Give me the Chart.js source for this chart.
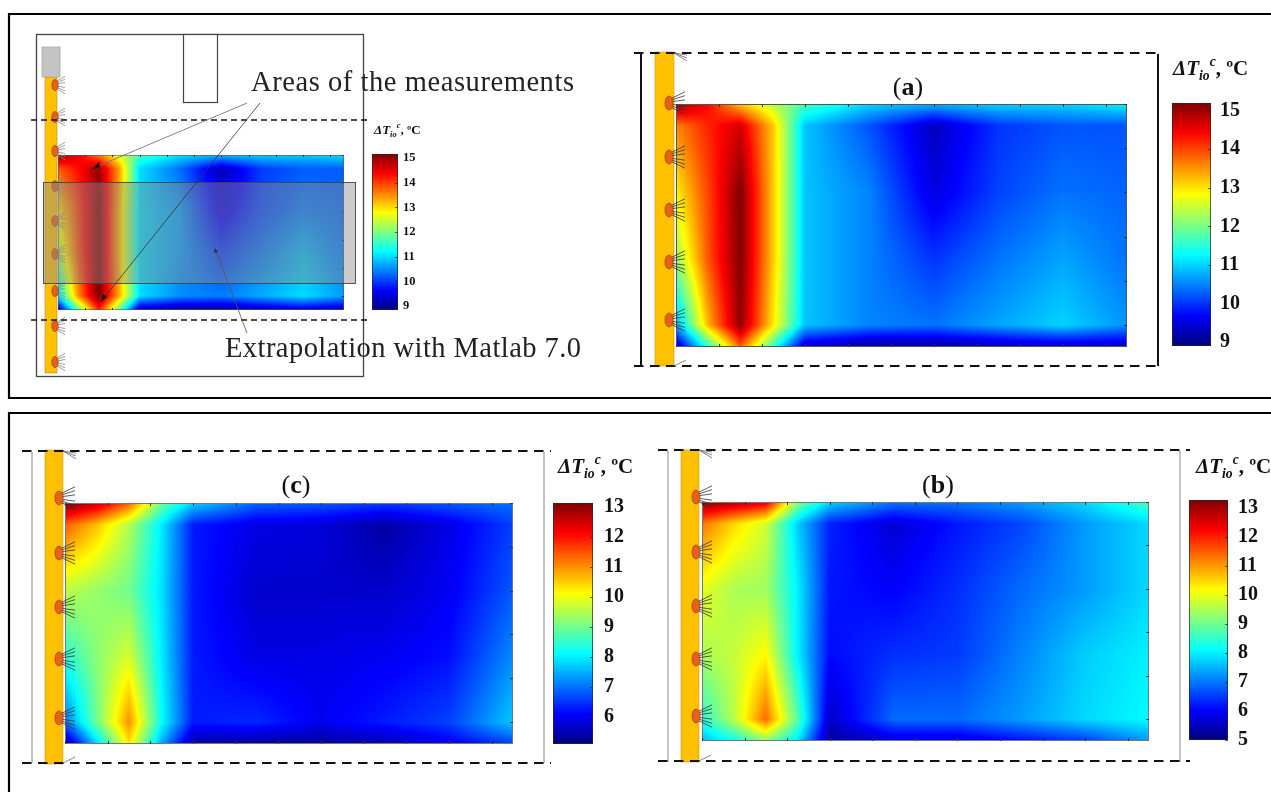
<!DOCTYPE html>
<html><head><meta charset="utf-8">
<script src="https://cdn.jsdelivr.net/npm/chart.js@4"></script>
<style>
html,body{margin:0;padding:0;background:#fff;width:1271px;height:792px;overflow:hidden}
body{filter:blur(.45px)}
canvas{position:absolute;display:block}
svg{position:absolute;left:0;top:0}
</style></head><body>
<svg id="under" width="1271" height="792" style="z-index:1"></svg>
<svg id="over" width="1271" height="792" style="z-index:5"></svg>
<script>
const xNodes=[0,0.75,1.5,2.25,3,4.5,6,7.5,9,10.5];
const yNodes=[0,0.5,2,3.5,5,5.5];
const xTicks=[0,1,2,3,4,5,6,7,8,9,10,10.5];
const yTicks=[0,1,2,3,4,5,5.5];
const schematicValues=[
 [15.1,14.5,13.6,12.6,11.6,11.0,10.8,10.9,10.9,11.0],
 [13.8,14.3,15.0,13.4,11.0,10.3, 9.2,10.0,10.2,10.2],
 [12.9,14.0,15.2,13.2,11.0,10.6, 9.5,10.1,10.4,10.3],
 [12.3,13.9,15.2,13.2,11.0,10.6,10.0,10.4,10.8,10.4],
 [11.0,13.5,15.2,13.3,11.0,10.5,10.4,10.7,11.0,10.6],
 [ 9.2,11.8,14.2,11.8, 9.2, 9.0, 9.0, 9.2, 9.4, 9.2]];
const panelAValues=[
 [15.1,14.4,13.2,12.4,11.7,11.0,10.8,11.0,11.0,11.2],
 [13.6,14.2,14.7,13.2,10.9,10.2, 9.3,10.0,10.2,10.2],
 [12.9,14.0,15.2,13.2,10.9,10.5, 9.5,10.1,10.4,10.3],
 [12.2,13.9,15.2,13.2,10.9,10.5,10.0,10.4,10.7,10.4],
 [10.7,13.3,15.1,13.0,10.9,10.5,10.4,10.7,11.0,10.6],
 [ 9.2,11.5,13.8,11.6, 9.3, 9.0, 9.0, 9.2, 9.3, 9.3]];
const panelCValues=[
 [13.2,12.6,11.4,9.0,7.8,6.9,6.8,6.6,6.8,7.0],
 [11.4,10.6, 9.5,8.0,6.3,5.9,5.8,5.4,5.9,6.6],
 [ 9.6, 9.3, 9.0,7.9,6.3,5.7,5.7,5.7,6.0,6.8],
 [ 8.4, 9.2, 9.8,8.0,6.3,5.9,5.9,6.0,6.2,7.2],
 [ 7.0, 9.0,11.0,8.2,6.3,6.4,6.0,6.3,6.6,7.7],
 [ 5.3, 7.8,10.3,7.5,5.4,5.3,5.3,5.5,6.0,6.6]];
const panelBValues=[
 [13.2,12.9,12.5,9.2,7.8,7.0,7.0,7.3,7.8,8.7],
 [11.3,10.5, 9.8,7.7,6.3,5.7,6.2,6.6,7.3,7.8],
 [10.0, 9.5, 9.4,8.0,6.2,6.0,6.4,6.9,7.3,7.8],
 [ 9.5, 9.7,10.2,8.0,6.1,6.4,6.5,7.1,7.7,8.0],
 [ 8.4, 9.6,11.4,8.8,5.6,6.9,6.9,7.3,7.8,8.1],
 [ 7.5, 8.2, 9.2,7.9,5.2,5.7,5.7,6.1,6.5,7.3]];
const barTicksA=[9,10,11,12,13,14,15];
const barTicksC=[6,7,8,9,10,11,12,13];
const barTicksB=[5,6,7,8,9,10,11,12,13];

function jet(t){
  const c=v=>Math.round(255*Math.max(0,Math.min(1,v)));
  return [c(1.5-Math.abs(4*t-3)),c(1.5-Math.abs(4*t-2)),c(1.5-Math.abs(4*t-1))];
}
const SERIF='"Liberation Serif","DejaVu Serif",serif';

function seg(nodes,v){
  let i=0;while(i<nodes.length-2&&v>nodes[i+1])i++;
  return [i,(v-nodes[i])/(nodes[i+1]-nodes[i])];
}
const fieldPlugin={id:'field',beforeDatasetsDraw(chart,args,o){
  const a=chart.chartArea,sx=chart.scales.x,sy=chart.scales.y,ctx=chart.ctx;
  const rows=chart.data.datasets[0].grid;
  const W=Math.round(a.right-a.left),H=Math.round(a.bottom-a.top);
  const img=ctx.createImageData(W,H);
  for(let py=0;py<H;py++){
    const [j,fy]=seg(yNodes,Math.max(0,Math.min(5.5,sy.getValueForPixel(a.top+py+.5))));
    for(let px=0;px<W;px++){
      const [i,fx]=seg(xNodes,Math.max(0,Math.min(10.5,sx.getValueForPixel(a.left+px+.5))));
      const v=(rows[j][i]*(1-fx)+rows[j][i+1]*fx)*(1-fy)+(rows[j+1][i]*(1-fx)+rows[j+1][i+1]*fx)*fy;
      const c=jet((v-o.vmin)/(o.vmax-o.vmin));
      const k=(py*W+px)*4;
      img.data[k]=c[0];img.data[k+1]=c[1];img.data[k+2]=c[2];img.data[k+3]=255;
    }
  }
  ctx.putImageData(img,a.left,a.top);
  ctx.save();
  ctx.strokeStyle=o.frame;ctx.lineWidth=1;
  ctx.strokeRect(a.left+.5,a.top+.5,a.right-a.left-1,a.bottom-a.top-1);
  ctx.strokeStyle='#333';ctx.beginPath();
  for(const t of xTicks){const p=Math.round(sx.getPixelForValue(t))+.5;
    ctx.moveTo(p,a.top);ctx.lineTo(p,a.top+o.tick);
    ctx.moveTo(p,a.bottom);ctx.lineTo(p,a.bottom-o.tick);}
  for(const t of yTicks){const p=Math.round(sy.getPixelForValue(t))+.5;
    ctx.moveTo(a.right,p);ctx.lineTo(a.right-o.tick,p);}
  ctx.stroke();ctx.restore();
}};
function heat(box,rows,vmin,vmax,frame,tick){
  const c=document.createElement('canvas');
  c.width=box.w;c.height=box.h;c.style.left=box.x+'px';c.style.top=box.y+'px';c.style.zIndex=2;
  document.body.appendChild(c);
  const pts=[];
  rows.forEach((r,j)=>r.forEach((v,i)=>pts.push({x:xNodes[i],y:yNodes[j],v})));
  new Chart(c,{type:'scatter',plugins:[fieldPlugin],
    data:{datasets:[{data:pts,grid:rows,pointRadius:0,showLine:false}]},
    options:{responsive:false,animation:false,layout:{padding:0,autoPadding:false},
      plugins:{legend:{display:false},tooltip:{enabled:false},field:{vmin,vmax,frame,tick}},
      scales:{x:{type:'linear',display:false,min:0,max:10.5},y:{type:'linear',display:false,min:0,max:5.5,reverse:true}}}});
}
function colorbar(box,ticks,vmin,vmax,fs,gap){
  const pad=30,lab=Math.ceil(fs+gap+fs*1.1);
  const c=document.createElement('canvas');
  c.width=box.w+lab;c.height=box.h+2*pad;c.style.left=box.x+'px';c.style.top=(box.y-pad)+'px';c.style.zIndex=2;
  document.body.appendChild(c);
  new Chart(c,{type:'bar',
    plugins:[{id:'barTicks',afterDraw(ch){const a=ch.chartArea,g=ch.ctx,s=ch.scales.y;g.save();
      g.strokeStyle='rgba(40,40,40,.7)';g.lineWidth=1;g.strokeRect(a.left+.5,a.top+.5,a.right-a.left-1,a.bottom-a.top-1);
      g.beginPath();for(const t of ticks){const p=Math.round(s.getPixelForValue(t))+.5;g.moveTo(a.right,p);g.lineTo(a.right-3,p);}
      g.stroke();g.restore();}}],
    data:{labels:['ΔT'],datasets:[{data:[[vmin,vmax]],barPercentage:1,categoryPercentage:1,
      backgroundColor(ctx){const ch=ctx.chart,a=ch.chartArea;if(!a)return '#00f';
        const g=ch.ctx.createLinearGradient(0,a.bottom,0,a.top);
        for(let i=0;i<=64;i++){const q=jet(i/64);g.addColorStop(i/64,`rgb(${q[0]},${q[1]},${q[2]})`);}
        return g;}}]},
    options:{responsive:false,animation:false,layout:{padding:{top:pad,bottom:pad,left:0,right:0},autoPadding:false},
      plugins:{legend:{display:false},tooltip:{enabled:false}},
      scales:{x:{display:false},
        y:{position:'right',min:vmin,max:vmax,border:{display:false},grid:{display:false,drawTicks:false},
          afterBuildTicks(s){s.ticks=ticks.map(v=>({value:v}));},
          afterFit(s){s.width=lab;},
          ticks:{autoSkip:false,color:'#111',padding:gap,font:{family:SERIF,size:fs,weight:'bold'},callback:v=>String(v)}}}}});
}
/* plots */
heat({x:58,y:155,w:286,h:155},schematicValues,8.84,15.16,'rgba(90,90,90,.6)',2);
colorbar({x:372,y:154,w:26,h:156},barTicksA,8.84,15.16,12.5,5);
heat({x:676,y:104,w:451,h:243},panelAValues,8.9,15.2,'#555',3);
colorbar({x:1172,y:103,w:39,h:243},barTicksA,8.9,15.2,20,9);
heat({x:65,y:503,w:448,h:241},panelCValues,5.1,13.13,'#777',3);
colorbar({x:553,y:503,w:40,h:241},barTicksC,5.1,13.13,20,11);
heat({x:702,y:502,w:447,h:239},panelBValues,5,13.28,'#777',3);
colorbar({x:1189,y:500,w:39,h:240},barTicksB,5,13.28,20,10);

/* annotations */
const NS='http://www.w3.org/2000/svg';
function el(svg,n,a,txt){const e=document.createElementNS(NS,n);for(const k in a)e.setAttribute(k,a[k]);if(txt!=null)e.textContent=txt;svg.appendChild(e);return e;}
const U=document.getElementById('under'),O=document.getElementById('over');
const rect=(s,x,y,w,h,fill,stroke,sw)=>el(s,'rect',{x,y,width:w,height:h,fill,stroke:stroke||'none','stroke-width':sw||0});
const line=(s,a,b,c,d,st,sw,dash)=>el(s,'line',{x1:a,y1:b,x2:c,y2:d,stroke:st,'stroke-width':sw,...(dash?{'stroke-dasharray':dash}:{})});
function fan(s,cx,y,r,len,col){
  [-1.6,-1.05,-.45,.45,1.05,1.6].forEach(d=>line(s,cx,y+d*.3*r,cx+len,y+d*r,col,.8));
}
function nozzle(s,cx,y,r,len,col){
  fan(s,cx,y,r,len,col);
  el(s,'ellipse',{cx,cy:y,rx:r*.58,ry:r,fill:'#e8601a',stroke:'#8a4a10','stroke-width':.7});
}
/* clipped spray lines where the dashed limits cut a nozzle off */
function capTop(s,x,y){[2,5,8].forEach(d=>line(s,x,y,x+13,y+d,'#666',.8));}
function capBottom(s,x,y){line(s,x,y,x+12,y-6,'#777',.9);}
function title(s,x,y,fs){
  const t=el(s,'text',{x,y,'font-family':SERIF,'font-size':fs,'font-weight':'bold',fill:'#111'});
  const sp=(txt,o)=>{const e=document.createElementNS(NS,'tspan');for(const k in o)e.setAttribute(k,o[k]);e.textContent=txt;t.appendChild(e);};
  sp('ΔT',{'font-style':'italic'});
  sp('io',{'font-style':'italic','font-size':fs*.65,dy:fs*.25});
  sp('c',{'font-style':'italic','font-size':fs*.65,dy:-fs*.7});
  sp(', ºC',{dy:fs*.45});
}
function tag(s,x,y,l){
  const t=el(s,'text',{x,y,'text-anchor':'middle','font-family':SERIF,'font-size':26,fill:'#111'});
  const sp=(txt,b)=>{const e=document.createElementNS(NS,'tspan');if(b)e.setAttribute('font-weight','bold');e.textContent=txt;t.appendChild(e);};
  sp('(');sp(l,true);sp(')');
}
const WALL='#ffc000';
/* outer frames */
line(U,9,14,1271,14,'#000',2.2);line(U,9,13,9,399,'#000',2.2);line(U,9,398,1271,398,'#000',2.2);
line(U,9,413,1271,413,'#000',2.2);line(U,9,412,9,792,'#000',2.2);

/* schematic */
rect(U,36.5,34.5,327,342,'none','#444',1.3);
rect(U,183.5,34.5,34,68,'#fff','#444',1.2);
rect(U,45,77,12,296,WALL,'#b08a20',.6);
rect(U,42,47,18,30,'#c4c4c4','#aaa',.8);
[85,117,151,186,221,254,291,326,362].forEach(y=>nozzle(O,55,y,5.5,10,'#888'));
line(O,31,120,369,120,'#111',1.5,'6 4');
line(O,31,320,369,320,'#111',1.5,'6 4');
rect(O,43.5,182.5,312,101,'rgba(140,140,140,.45)','#444',.9);
line(O,247,103,96,167,'#777',.9);
line(O,260,103,104,298,'#333',.8);
line(O,247,333,216,251,'#555',.8);
el(O,'polygon',{points:'92,169 99,162 100,167',fill:'#111'});
el(O,'polygon',{points:'101,302 103,294 107,297',fill:'#111'});
el(O,'polygon',{points:'215,248 214,253 218,252',fill:'#333'});
el(O,'text',{x:251,y:91,'font-family':SERIF,'font-size':28.5,fill:'#222',textLength:323,lengthAdjust:'spacing'},'Areas of the measurements');
el(O,'text',{x:225,y:357,'font-family':SERIF,'font-size':28.5,fill:'#222',textLength:356,lengthAdjust:'spacing'},'Extrapolation with Matlab 7.0');
title(O,374,134,13);

/* panel a */
line(U,641,54,641,366,'#111',2);line(U,1158,54,1158,366,'#111',2);
rect(U,655,52,19,314,WALL,'#c09a20',.6);
line(O,634,53,1160,53,'#111',2,'9.5 6.5');line(O,634,366,1160,366,'#111',2,'9.5 6.5');
[103,157,210,262,320].forEach(y=>nozzle(O,669,y,7,16,'#333'));
capTop(O,674,53);capBottom(O,674,366);
title(O,1173,75,21);tag(O,908,95,'a');

/* panel c */
line(U,32,452,32,763,'#999',1.2);line(U,544,452,544,763,'#999',1.2);
rect(U,45,450,18,314,WALL,'#c09a20',.6);
line(O,22,451,551,451,'#111',2,'9.5 6.5');line(O,22,763,551,763,'#111',2,'9.5 6.5');
[498,553,607,659,718].forEach(y=>nozzle(O,59,y,7,16,'#333'));
capTop(O,63,451);capBottom(O,63,763);
title(O,558,473,21);tag(O,296,493,'c');

/* panel b */
line(U,668,451,668,762,'#999',1.2);line(U,1180,451,1180,762,'#999',1.2);
rect(U,681,450,18,312,WALL,'#c09a20',.6);
line(O,658,450,1190,450,'#111',2,'9.5 6.5');line(O,658,761,1190,761,'#111',2,'9.5 6.5');
[497,552,606,659,716].forEach(y=>nozzle(O,696,y,7,16,'#333'));
capTop(O,699,450);capBottom(O,699,761);
title(O,1196,473,21);tag(O,938,493,'b');
</script>
</body></html>
